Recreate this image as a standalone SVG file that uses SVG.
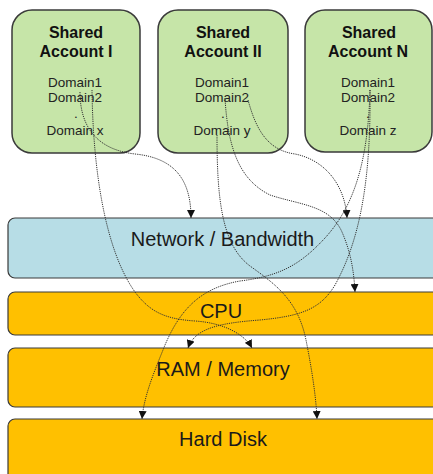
<svg xmlns="http://www.w3.org/2000/svg" width="433" height="474" viewBox="0 0 433 474">
  <defs>
    <style>
      .account rect { fill: #c6e5a8; stroke: #3a3a3a; stroke-width: 1.5; }
      .band rect { stroke: #3a3a3a; stroke-width: 1.2; }
      .net rect { fill: #b7dde6; }
      .res rect { fill: #ffc000; }
      .title { font-family: "Liberation Sans", Arial, sans-serif; font-size: 16px; font-weight: bold; fill: #111; text-anchor: middle; }
      .dom { font-family: "Liberation Sans", Arial, sans-serif; font-size: 13.5px; fill: #222; text-anchor: middle; }
      .label { font-family: "Liberation Sans", Arial, sans-serif; font-size: 20px; fill: #1a1a1a; text-anchor: middle; }
      .link { fill: none; stroke: #333; stroke-width: 1; stroke-dasharray: 1.2 1; }
    </style>
    <marker id="arrow" viewBox="0 0 8 8" refX="8" refY="4" markerWidth="8" markerHeight="8" markerUnits="userSpaceOnUse" orient="auto">
      <path d="M0,0 L8,4 L0,8 z" fill="#111"/>
    </marker>
  </defs>

  <!-- shared accounts -->
  <g id="account-1" class="account">
    <rect x="12" y="10" width="128" height="143" rx="20" ry="20"/>
    <text class="title" x="76" y="38">Shared</text>
    <text class="title" x="76" y="57">Account I</text>
    <text class="dom" x="75" y="87">Domain1</text>
    <text class="dom" x="75" y="102">Domain2</text>
    <text class="dom" x="76" y="118">.</text>
    <text class="dom" x="75" y="135">Domain x</text>
  </g>
  <g id="account-2" class="account">
    <rect x="158" y="10" width="130" height="143" rx="20" ry="20"/>
    <text class="title" x="223" y="38">Shared</text>
    <text class="title" x="223" y="57">Account II</text>
    <text class="dom" x="222" y="87">Domain1</text>
    <text class="dom" x="222" y="102">Domain2</text>
    <text class="dom" x="223" y="118">.</text>
    <text class="dom" x="222" y="135">Domain y</text>
  </g>
  <g id="account-n" class="account">
    <rect x="305" y="10" width="127" height="142" rx="20" ry="20"/>
    <text class="title" x="369" y="38">Shared</text>
    <text class="title" x="368" y="57">Account N</text>
    <text class="dom" x="368" y="87">Domain1</text>
    <text class="dom" x="368" y="102">Domain2</text>
    <text class="dom" x="368" y="118">.</text>
    <text class="dom" x="368" y="135">Domain z</text>
  </g>

  <!-- resource layers -->
  <g id="network" class="band net">
    <rect x="8" y="218" width="432" height="60" rx="7" ry="7"/>
    <text class="label" x="222.5" y="246">Network / Bandwidth</text>
  </g>
  <g id="cpu" class="band res">
    <rect x="8" y="292" width="432" height="43" rx="7" ry="7"/>
    <text class="label" x="221" y="318">CPU</text>
  </g>
  <g id="ram" class="band res">
    <rect x="8" y="348" width="432" height="59" rx="7" ry="7"/>
    <text class="label" x="223" y="376">RAM / Memory</text>
  </g>
  <g id="disk" class="band res">
    <rect x="8" y="419" width="432" height="70" rx="7" ry="7"/>
    <text class="label" x="223" y="446">Hard Disk</text>
  </g>

  <!-- domain-to-resource links -->
  <g id="connectors">
    <path class="link" marker-end="url(#arrow)" d="M80,92 C80,130 100,150 135,154 C175,158 191,180 191,218"/>
    <path class="link" marker-end="url(#arrow)" d="M92,90 C93,170 105,250 135,292 C150,312 165,319 195,321 C225,323 245,335 252,348"/>
    <path class="link" marker-end="url(#arrow)" d="M217,135 C217,200 222,245 250,266 C275,284 298,300 306,340 C311,365 316,395 317,419"/>
    <path class="link" marker-end="url(#arrow)" d="M248,100 C255,125 265,150 295,154 C325,160 345,185 347,218"/>
    <path class="link" marker-end="url(#arrow)" d="M225,98 C228,150 240,180 270,195 C300,205 330,205 342,232 C352,255 354,275 355,292"/>
    <path class="link" marker-end="url(#arrow)" d="M370,90 C368,160 355,205 325,238 C300,265 280,276 240,281 C200,288 180,310 165,345 C155,370 144,395 142,419"/>
    <path class="link" marker-end="url(#arrow)" d="M370,90 C371,180 360,240 335,285 C320,310 300,316 260,320 C220,323 195,328 188,348"/>
  </g>
</svg>
